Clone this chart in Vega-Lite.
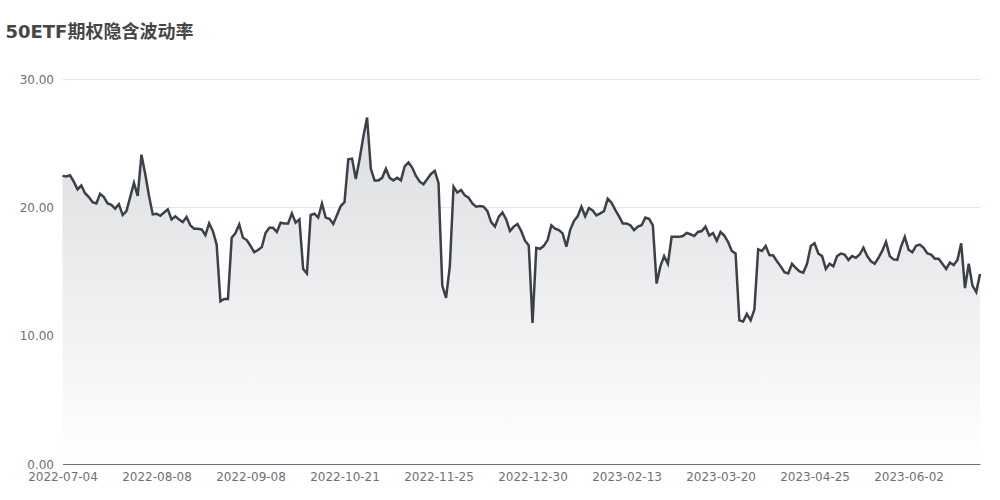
{
"$schema": "https://vega.github.io/schema/vega-lite/v6.json",
"width": 917.5,
"height": 385,
"autosize": {"type": "none"},
"padding": {"left": 62.5, "top": 79, "right": 20, "bottom": 36},
"background": "#ffffff",
"title": {"text": "50ETF期权隐含波动率", "anchor": "start", "frame": "group", "dx": -57, "offset": 31, "fontSize": 18, "fontWeight": "bold", "color": "#464646", "font": "DejaVu Sans, Noto Sans CJK SC"},
"config": {"view": {"stroke": null}, "axis": {"labelFont": "DejaVu Sans", "labelColor": "#6e7079", "labelFontSize": 12}},
"data": {"values": [
{"date":"2022-07-04","iv":22.45},{"date":"2022-07-05","iv":22.4},{"date":"2022-07-06","iv":22.5},{"date":"2022-07-07","iv":22.0},{"date":"2022-07-08","iv":21.4},
{"date":"2022-07-11","iv":21.7},{"date":"2022-07-12","iv":21.1},{"date":"2022-07-13","iv":20.8},{"date":"2022-07-14","iv":20.4},{"date":"2022-07-15","iv":20.3},
{"date":"2022-07-18","iv":21.05},{"date":"2022-07-19","iv":20.8},{"date":"2022-07-20","iv":20.3},{"date":"2022-07-21","iv":20.2},{"date":"2022-07-22","iv":19.9},
{"date":"2022-07-25","iv":20.25},{"date":"2022-07-26","iv":19.4},{"date":"2022-07-27","iv":19.7},{"date":"2022-07-28","iv":20.8},{"date":"2022-07-29","iv":21.9},
{"date":"2022-08-01","iv":20.9},{"date":"2022-08-02","iv":24.1},{"date":"2022-08-03","iv":22.6},{"date":"2022-08-04","iv":20.9},{"date":"2022-08-05","iv":19.45},
{"date":"2022-08-08","iv":19.5},{"date":"2022-08-09","iv":19.35},{"date":"2022-08-10","iv":19.6},{"date":"2022-08-11","iv":19.84},{"date":"2022-08-12","iv":19.06},
{"date":"2022-08-13","iv":19.3},{"date":"2022-08-15","iv":19.06},{"date":"2022-08-16","iv":18.85},{"date":"2022-08-17","iv":19.25},{"date":"2022-08-18","iv":18.6},
{"date":"2022-08-19","iv":18.33},{"date":"2022-08-22","iv":18.33},{"date":"2022-08-23","iv":18.28},{"date":"2022-08-24","iv":17.84},{"date":"2022-08-25","iv":18.75},
{"date":"2022-08-26","iv":18.15},{"date":"2022-08-27","iv":17.1},{"date":"2022-08-29","iv":12.68},{"date":"2022-08-30","iv":12.86},{"date":"2022-08-31","iv":12.86},
{"date":"2022-09-01","iv":17.63},{"date":"2022-09-02","iv":18.0},{"date":"2022-09-05","iv":18.67},{"date":"2022-09-06","iv":17.63},{"date":"2022-09-07","iv":17.45},
{"date":"2022-09-08","iv":17.0},{"date":"2022-09-09","iv":16.5},{"date":"2022-09-13","iv":16.67},{"date":"2022-09-14","iv":16.9},{"date":"2022-09-15","iv":18.0},
{"date":"2022-09-16","iv":18.4},{"date":"2022-09-19","iv":18.4},{"date":"2022-09-20","iv":18.08},{"date":"2022-09-21","iv":18.8},{"date":"2022-09-22","iv":18.75},
{"date":"2022-09-23","iv":18.75},{"date":"2022-09-26","iv":19.53},{"date":"2022-09-27","iv":18.8},{"date":"2022-09-28","iv":19.06},{"date":"2022-09-29","iv":15.2},
{"date":"2022-09-30","iv":14.84},{"date":"2022-10-10","iv":19.4},{"date":"2022-10-11","iv":19.5},{"date":"2022-10-12","iv":19.2},{"date":"2022-10-13","iv":20.3},
{"date":"2022-10-14","iv":19.2},{"date":"2022-10-17","iv":19.1},{"date":"2022-10-18","iv":18.7},{"date":"2022-10-19","iv":19.4},{"date":"2022-10-20","iv":20.1},
{"date":"2022-10-21","iv":20.4},{"date":"2022-10-24","iv":23.75},{"date":"2022-10-25","iv":23.8},{"date":"2022-10-26","iv":22.2},{"date":"2022-10-27","iv":23.75},
{"date":"2022-10-28","iv":25.5},{"date":"2022-10-31","iv":27.0},{"date":"2022-11-01","iv":23.0},{"date":"2022-11-02","iv":22.1},{"date":"2022-11-03","iv":22.1},
{"date":"2022-11-04","iv":22.3},{"date":"2022-11-07","iv":23.0},{"date":"2022-11-08","iv":22.3},{"date":"2022-11-09","iv":22.1},{"date":"2022-11-10","iv":22.3},
{"date":"2022-11-11","iv":22.1},{"date":"2022-11-14","iv":23.2},{"date":"2022-11-15","iv":23.5},{"date":"2022-11-16","iv":23.1},{"date":"2022-11-17","iv":22.45},
{"date":"2022-11-18","iv":22.0},{"date":"2022-11-21","iv":21.8},{"date":"2022-11-22","iv":22.2},{"date":"2022-11-23","iv":22.6},{"date":"2022-11-24","iv":22.84},
{"date":"2022-11-25","iv":21.9},{"date":"2022-11-28","iv":13.9},{"date":"2022-11-29","iv":12.95},{"date":"2022-11-30","iv":15.4},{"date":"2022-12-01","iv":21.6},
{"date":"2022-12-02","iv":21.15},{"date":"2022-12-05","iv":21.35},{"date":"2022-12-06","iv":20.93},{"date":"2022-12-07","iv":20.75},{"date":"2022-12-08","iv":20.3},
{"date":"2022-12-09","iv":20.05},{"date":"2022-12-12","iv":20.1},{"date":"2022-12-13","iv":20.05},{"date":"2022-12-14","iv":19.7},{"date":"2022-12-15","iv":18.85},
{"date":"2022-12-16","iv":18.5},{"date":"2022-12-19","iv":19.26},{"date":"2022-12-20","iv":19.6},{"date":"2022-12-21","iv":19.06},{"date":"2022-12-22","iv":18.15},
{"date":"2022-12-23","iv":18.5},{"date":"2022-12-26","iv":18.7},{"date":"2022-12-27","iv":18.15},{"date":"2022-12-28","iv":17.4},{"date":"2022-12-29","iv":17.03},
{"date":"2022-12-30","iv":11.0},{"date":"2023-01-03","iv":16.85},{"date":"2023-01-04","iv":16.77},{"date":"2023-01-05","iv":17.0},{"date":"2023-01-06","iv":17.45},
{"date":"2023-01-09","iv":18.6},{"date":"2023-01-10","iv":18.33},{"date":"2023-01-11","iv":18.23},{"date":"2023-01-12","iv":17.97},{"date":"2023-01-13","iv":16.93},
{"date":"2023-01-16","iv":18.23},{"date":"2023-01-17","iv":18.93},{"date":"2023-01-18","iv":19.3},{"date":"2023-01-19","iv":20.05},{"date":"2023-01-20","iv":19.3},
{"date":"2023-01-30","iv":19.94},{"date":"2023-01-31","iv":19.76},{"date":"2023-02-01","iv":19.37},{"date":"2023-02-02","iv":19.53},{"date":"2023-02-03","iv":19.7},
{"date":"2023-02-06","iv":20.68},{"date":"2023-02-07","iv":20.36},{"date":"2023-02-08","iv":19.8},{"date":"2023-02-09","iv":19.3},{"date":"2023-02-10","iv":18.75},
{"date":"2023-02-13","iv":18.75},{"date":"2023-02-14","iv":18.6},{"date":"2023-02-15","iv":18.23},{"date":"2023-02-16","iv":18.5},{"date":"2023-02-17","iv":18.6},
{"date":"2023-02-20","iv":19.2},{"date":"2023-02-21","iv":19.1},{"date":"2023-02-22","iv":18.6},{"date":"2023-02-23","iv":14.06},{"date":"2023-02-24","iv":15.4},
{"date":"2023-02-27","iv":16.2},{"date":"2023-02-28","iv":15.6},{"date":"2023-03-01","iv":17.7},{"date":"2023-03-02","iv":17.7},{"date":"2023-03-03","iv":17.7},
{"date":"2023-03-06","iv":17.76},{"date":"2023-03-07","iv":18.0},{"date":"2023-03-08","iv":17.9},{"date":"2023-03-09","iv":17.76},{"date":"2023-03-10","iv":18.08},
{"date":"2023-03-13","iv":18.15},{"date":"2023-03-14","iv":18.5},{"date":"2023-03-15","iv":17.8},{"date":"2023-03-16","iv":18.0},{"date":"2023-03-17","iv":17.4},
{"date":"2023-03-20","iv":18.08},{"date":"2023-03-21","iv":17.8},{"date":"2023-03-22","iv":17.3},{"date":"2023-03-23","iv":16.6},{"date":"2023-03-24","iv":16.4},
{"date":"2023-03-27","iv":11.2},{"date":"2023-03-28","iv":11.1},{"date":"2023-03-29","iv":11.7},{"date":"2023-03-30","iv":11.2},{"date":"2023-03-31","iv":12.03},
{"date":"2023-04-03","iv":16.72},{"date":"2023-04-04","iv":16.6},{"date":"2023-04-06","iv":16.98},{"date":"2023-04-07","iv":16.28},{"date":"2023-04-10","iv":16.25},
{"date":"2023-04-11","iv":15.8},{"date":"2023-04-12","iv":15.4},{"date":"2023-04-13","iv":14.94},{"date":"2023-04-14","iv":14.84},{"date":"2023-04-17","iv":15.6},
{"date":"2023-04-18","iv":15.28},{"date":"2023-04-19","iv":15.0},{"date":"2023-04-20","iv":14.9},{"date":"2023-04-21","iv":15.6},{"date":"2023-04-24","iv":16.98},
{"date":"2023-04-25","iv":17.2},{"date":"2023-04-26","iv":16.4},{"date":"2023-04-27","iv":16.2},{"date":"2023-04-28","iv":15.2},{"date":"2023-05-04","iv":15.6},
{"date":"2023-05-05","iv":15.4},{"date":"2023-05-08","iv":16.2},{"date":"2023-05-09","iv":16.4},{"date":"2023-05-10","iv":16.32},{"date":"2023-05-11","iv":15.9},
{"date":"2023-05-12","iv":16.2},{"date":"2023-05-15","iv":16.07},{"date":"2023-05-16","iv":16.32},{"date":"2023-05-17","iv":16.85},{"date":"2023-05-18","iv":16.2},
{"date":"2023-05-19","iv":15.8},{"date":"2023-05-22","iv":15.6},{"date":"2023-05-23","iv":16.07},{"date":"2023-05-24","iv":16.6},{"date":"2023-05-25","iv":17.3},
{"date":"2023-05-26","iv":16.2},{"date":"2023-05-29","iv":15.94},{"date":"2023-05-30","iv":15.9},{"date":"2023-05-31","iv":16.93},{"date":"2023-06-01","iv":17.7},
{"date":"2023-06-02","iv":16.7},{"date":"2023-06-05","iv":16.5},{"date":"2023-06-06","iv":17.0},{"date":"2023-06-07","iv":17.1},{"date":"2023-06-08","iv":16.85},
{"date":"2023-06-09","iv":16.4},{"date":"2023-06-12","iv":16.32},{"date":"2023-06-13","iv":16.0},{"date":"2023-06-14","iv":16.0},{"date":"2023-06-15","iv":15.6},
{"date":"2023-06-16","iv":15.2},{"date":"2023-06-19","iv":15.7},{"date":"2023-06-20","iv":15.5},{"date":"2023-06-21","iv":15.9},{"date":"2023-06-26","iv":17.2},
{"date":"2023-06-27","iv":13.7},{"date":"2023-06-28","iv":15.6},{"date":"2023-06-29","iv":13.9},{"date":"2023-06-30","iv":13.4},{"date":"2023-07-03","iv":14.8}
]},
"encoding": {
  "x": {"field": "date", "type": "ordinal", "scale": {"type": "point", "padding": 0},
        "axis": {"values": ["2022-07-04","2022-08-08","2022-09-08","2022-10-21","2022-11-25","2022-12-30","2023-02-13","2023-03-20","2023-04-25","2023-06-02"],
                 "labelAngle": 0, "ticks": false, "domainColor": "#6e7079", "title": null, "labelPadding": 7, "grid": false, "labelOverlap": false}},
  "y": {"field": "iv", "type": "quantitative", "scale": {"domain": [0, 30]},
        "axis": {"values": [0, 10, 20, 30], "format": ".2f", "domain": false, "ticks": false, "gridColor": "#e0e6f1", "title": null, "labelPadding": 9}}
},
"layer": [
  {"mark": {"type": "area", "fill": {"gradient": "linear", "x1": 0, "y1": 0, "x2": 0, "y2": 1, "stops": [{"offset": 0, "color": "#dcdde0"}, {"offset": 1, "color": "#ffffff"}]}}},
  {"mark": {"type": "line", "color": "#3c4048", "strokeWidth": 2.5}}
]
}
